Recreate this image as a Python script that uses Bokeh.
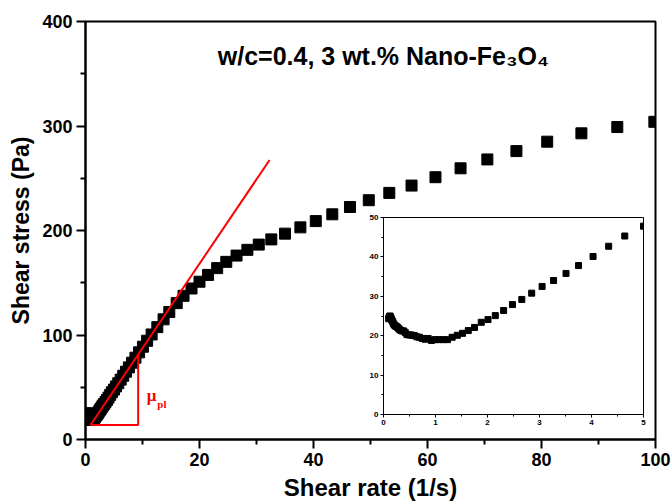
from bokeh.plotting import figure
from bokeh.models import Range1d, Label, FixedTicker
from bokeh.layouts import column
from bokeh.embed import file_html
from bokeh.resources import INLINE

# ---- data ----
shear_rate = [0.100, 0.107, 0.115, 0.124, 0.133, 0.143, 0.153, 0.165, 0.177, 0.190,
              0.204, 0.219, 0.236, 0.253, 0.272, 0.292, 0.314, 0.338, 0.363, 0.390,
              0.419, 0.450, 0.484, 0.520, 0.558, 0.600, 0.645, 0.693, 0.744, 0.800,
              0.859, 0.923, 0.992, 1.066, 1.145, 1.23,
              1.32, 1.42, 1.52, 1.63, 1.75, 1.88, 2.01, 2.15, 2.31, 2.48,
              2.66, 2.85, 3.05, 3.27, 3.51, 3.75, 4.03, 4.33, 4.64, 5.00,
              5.36, 5.75, 6.17, 6.62, 7.10, 7.61, 8.17, 8.76, 9.40, 10.08,
              10.81, 11.6, 12.6, 13.7, 14.7, 16.0, 17.2, 18.6, 20.0, 21.5,
              23.1, 24.7, 26.5, 28.4, 30.4, 32.6, 35.0, 37.7, 40.4, 43.3,
              46.4, 49.7, 53.3, 57.2, 61.4, 65.8, 70.5, 75.6, 81.0, 87.0,
              93.3, 99.8]
shear_stress = [24.3, 24.6, 24.9, 25.0, 24.8, 24.5, 24.1, 23.8, 23.5, 23.1,
                22.8, 22.6, 22.4, 22.3, 22.1, 21.8, 21.5, 21.3, 21.2, 21.2,
                20.8, 20.3, 20.2, 20.2, 20.1, 20.0, 19.7, 19.6, 19.3, 19.1,
                19.3, 18.8, 19.0, 19.0, 19.0, 19.0,
                19.6, 20.1, 20.6, 21.3, 22.1, 23.4, 24.1, 25.1, 26.4, 27.9,
                29.2, 30.8, 32.5, 34.0, 35.8, 37.8, 40.1, 42.7, 45.3, 47.8,
                50.8, 53.9, 57.3, 61.0, 64.9, 69.0, 73.5, 78.3, 83.4, 88.8,
                94.5, 100.5, 107.5, 115.0, 122.0, 130.5, 137.5, 144.5, 151.0, 157.5,
                164.0, 170.0, 176.0, 181.5, 186.5, 191.5, 197.0, 203.0, 209.0, 215.5,
                222.5, 229.0, 236.0, 243.0, 251.0, 259.5, 268.0, 276.0, 285.0, 293.0,
                299.0, 304.0]

# Bingham fit line and slope triangle
fit_x = [0.88, 32.3]
fit_y = [13.9, 267.5]
tri_x = [0.88, 9.24, 9.24]
tri_y = [13.9, 13.9, 81.4]

main_x_ticks = [0, 20, 40, 60, 80, 100]
main_x_minor = [10, 30, 50, 70, 90]
main_y_ticks = [0, 100, 200, 300, 400]
main_y_minor = [50, 150, 250, 350]
inset_x_ticks = [0, 1, 2, 3, 4, 5]
inset_x_minor = [0.5, 1.5, 2.5, 3.5, 4.5]
inset_y_ticks = [0, 10, 20, 30, 40, 50]
inset_y_minor = [5, 15, 25, 35, 45]

title_text = "w/c=0.4, 3 wt.% Nano-Fe\u2083O\u2084"
FONT = "Liberation Sans"

# ---- main figure ----
p = figure(width=672, height=504, x_range=Range1d(0, 100), y_range=Range1d(0, 400),
           output_backend="svg", toolbar_location=None,
           min_border_left=85, min_border_right=17, min_border_top=21, min_border_bottom=65,
           x_axis_label="Shear rate (1/s)", y_axis_label="Shear stress (Pa)")
p.xgrid.visible = False
p.ygrid.visible = False
p.outline_line_color = "black"
p.outline_line_width = 2
p.background_fill_color = "white"
p.border_fill_color = "white"

for ax, t, m, fs in ((p.xaxis[0], main_x_ticks, main_x_minor, "24px"),
                     (p.yaxis[0], main_y_ticks, main_y_minor, "23px")):
    ax.ticker = FixedTicker(ticks=t, minor_ticks=m)
    ax.axis_line_width = 2
    ax.major_tick_line_width = 2
    ax.minor_tick_line_width = 2
    ax.major_tick_out = 9
    ax.major_tick_in = 0
    ax.minor_tick_out = 5
    ax.minor_tick_in = 0
    ax.major_label_text_font = FONT
    ax.major_label_text_font_style = "bold"
    ax.major_label_text_font_size = "18px"
    ax.major_label_text_color = "black"
    ax.axis_label_text_font = FONT
    ax.axis_label_text_font_style = "bold"
    ax.axis_label_text_font_size = fs
    ax.axis_label_text_color = "black"
    ax.major_label_standoff = 4
    ax.axis_label_standoff = 5

p.scatter(shear_rate, shear_stress, marker="square", size=11, color="black")
p.line(fit_x, fit_y, line_color="red", line_width=2)
p.line(tri_x, tri_y, line_color="red", line_width=2)

p.add_layout(Label(x=23.2, y=367, text=title_text, text_font=FONT, text_font_style="bold",
                   text_font_size="25px", text_color="black", text_baseline="alphabetic"))
p.add_layout(Label(x=11.6, y=42.5, text="\u03bc", text_font="Liberation Serif",
                   text_font_style="bold", text_font_size="17px", text_color="red",
                   text_align="center", text_baseline="middle"))
p.add_layout(Label(x=13.4, y=34.0, text="pl", text_font="Liberation Serif",
                   text_font_style="bold", text_font_size="11px", text_color="red",
                   text_align="center", text_baseline="middle"))

# ---- inset (same data, 0-5 1/s) ----
in_x = [x for x in shear_rate if x <= 5.0]
in_y = [y for x, y in zip(shear_rate, shear_stress) if x <= 5.0]

# column aligns plot borders with the main figure (85 left, 17 right)
inset = figure(width=362, height=218, x_range=Range1d(0, 5), y_range=Range1d(0, 50),
               output_backend="svg", toolbar_location=None,
               min_border_left=85, min_border_right=17, min_border_top=5, min_border_bottom=16)
inset.margin = (-292, 0, 74, 298)
inset.xgrid.visible = False
inset.ygrid.visible = False
inset.outline_line_color = "black"
inset.outline_line_width = 1
inset.background_fill_color = "white"
inset.border_fill_alpha = 0
for ax, t, m in ((inset.xaxis[0], inset_x_ticks, inset_x_minor),
                 (inset.yaxis[0], inset_y_ticks, inset_y_minor)):
    ax.ticker = FixedTicker(ticks=t, minor_ticks=m)
    ax.axis_line_width = 1
    ax.major_tick_out = 3
    ax.major_tick_in = 0
    ax.minor_tick_out = 2
    ax.minor_tick_in = 0
    ax.major_label_text_font = FONT
    ax.major_label_text_font_style = "bold"
    ax.major_label_text_font_size = "8px"
    ax.major_label_text_color = "black"
    ax.major_label_standoff = 2
inset.scatter(in_x, in_y, marker="square", size=6, color="black")

layout = column(p, inset)
open("out.html", "w").write(file_html(layout, INLINE))
